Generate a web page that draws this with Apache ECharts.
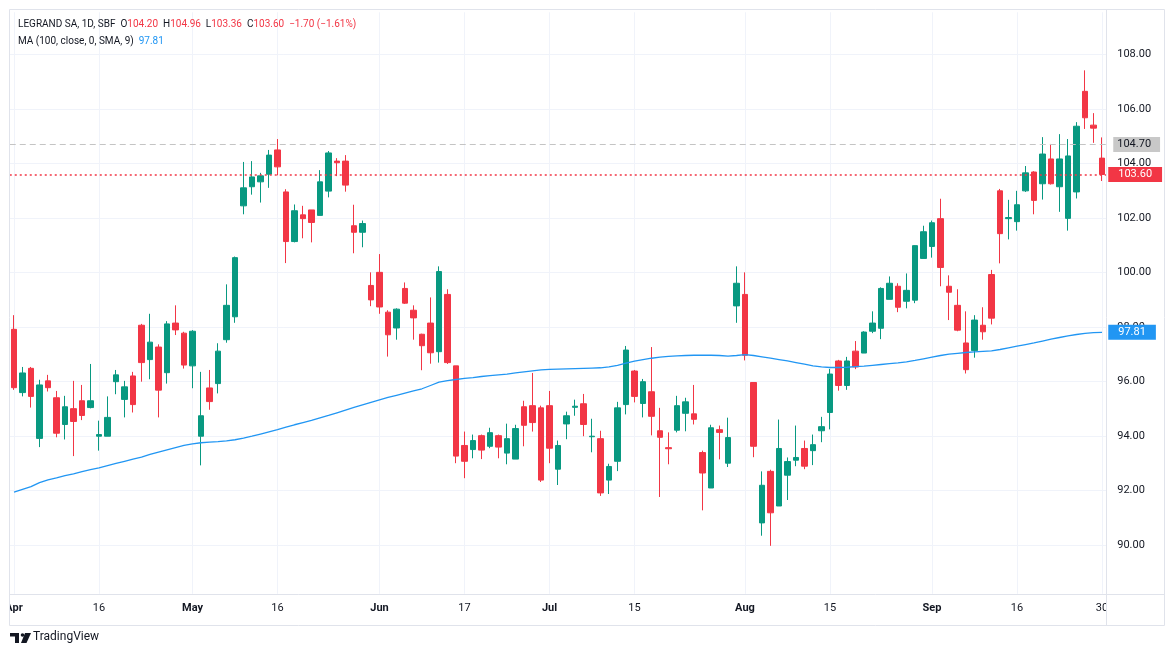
<!DOCTYPE html>
<html>
<head>
<meta charset="utf-8">
<title>LEGRAND SA, 1D, SBF</title>
<script src="https://cdn.jsdelivr.net/npm/echarts@6/dist/echarts.min.js"></script>
<style>
  html, body { margin: 0; padding: 0; background: #fff; }
  #chart { width: 1171px; height: 657px; }
</style>
</head>
<body>
<div id="chart"></div>
<script>
// trading days, Euronext Paris 2024
const aprDays = [2, 3, 4, 5, 8, 9, 10, 11, 12, 15, 16, 17, 18, 19, 22, 23, 24, 25, 26, 29, 30]
const mayDays = [2, 3, 6, 7, 8, 9, 10, 13, 14, 15, 16, 17, 20, 21, 22, 23, 24, 27, 28, 29, 30, 31]
const junDays = [3, 4, 5, 6, 7, 10, 11, 12, 13, 14, 17, 18, 19, 20, 21, 24, 25, 26, 27, 28]
const julDays = [1, 2, 3, 4, 5, 8, 9, 10, 11, 12, 15, 16, 17, 18, 19, 22, 23, 24, 25, 26, 29, 30, 31]
const augDays = [1, 2, 5, 6, 7, 8, 9, 12, 13, 14, 15, 16, 19, 20, 21, 22, 23, 26, 27, 28, 29, 30]
const sepDays = [2, 3, 4, 5, 6, 9, 10, 11, 12, 13, 16, 17, 18, 19, 20, 23, 24, 25, 26, 27, 30]

const opens = [
  97.92, 95.60, 96.49, 93.92, 96.03, 95.41, 94.43, 95.01, 95.30, 95.05,
  94.00, 94.00, 96.00, 95.35, 96.21, 98.07, 96.81, 97.27, 96.33, 98.15,
  97.78, 96.58, 94.00, 95.77, 95.93, 97.54, 98.38, 102.45, 103.15, 103.33,
  103.61, 104.50, 102.96, 101.14, 102.12, 102.30, 102.10, 102.99, 104.09, 104.09,
  101.72, 101.48, 99.53, 100.01, 98.55, 97.97, 99.42, 98.62, 97.74, 98.15,
  97.10, 99.20, 96.58, 93.66, 93.51, 94.02, 93.63, 94.02, 93.38, 93.16,
  95.08, 95.12, 95.04, 95.12, 92.79, 94.45, 95.06, 95.19, 93.98, 93.91,
  92.39, 93.08, 95.16, 96.39, 95.20, 95.63, 94.20, 93.58, 94.22, 94.84,
  94.82, 93.40, 92.10, 94.24, 93.01, 98.78, 99.20, 95.97, 90.82, 92.71,
  91.44, 92.57, 93.12, 93.55, 93.47, 94.20, 94.87, 96.76, 95.86, 97.12,
  97.05, 97.85, 97.96, 99.02, 99.50, 98.95, 98.99, 100.52, 100.96, 101.98,
  99.50, 98.80, 97.42, 97.14, 98.07, 99.93, 103.00, 101.98, 101.87, 103.00,
  103.69, 103.26, 104.17, 103.15, 101.99, 102.96, 106.65, 105.41, 104.20
]
const closes = [
  95.78, 96.32, 95.46, 95.88, 95.78, 94.11, 95.08, 94.54, 94.76, 95.30,
  94.06, 94.69, 96.25, 95.81, 95.16, 96.70, 97.45, 95.69, 98.12, 97.90,
  96.61, 97.85, 94.75, 95.27, 97.12, 98.80, 100.55, 103.11, 103.51, 103.55,
  104.31, 103.88, 101.14, 102.27, 101.98, 101.84, 103.33, 104.39, 104.03, 103.21,
  101.48, 101.80, 99.00, 98.74, 97.72, 98.66, 98.88, 98.34, 97.32, 97.06,
  100.04, 96.70, 93.27, 93.08, 93.84, 93.49, 94.13, 93.60, 93.91, 94.28,
  94.40, 94.50, 92.39, 93.56, 93.66, 94.75, 95.10, 94.43, 94.00, 91.92,
  92.89, 95.04, 97.16, 95.46, 96.00, 94.73, 93.96, 93.54, 95.12, 95.26,
  94.62, 92.65, 94.31, 94.14, 93.95, 99.61, 96.97, 93.63, 92.20, 91.19,
  93.55, 93.07, 93.22, 92.90, 93.69, 94.35, 96.28, 95.86, 96.76, 96.54,
  97.82, 98.15, 99.42, 99.61, 98.73, 99.35, 100.99, 101.50, 101.83, 100.19,
  99.28, 97.89, 96.44, 98.26, 97.83, 98.33, 101.43, 102.02, 102.49, 103.66,
  102.65, 104.35, 103.26, 104.17, 104.28, 105.37, 105.68, 105.30, 103.60
]
const lows = [
  95.70, 95.46, 95.05, 93.60, 95.64, 93.96, 93.88, 93.27, 94.59, 95.02,
  93.47, 94.00, 95.54, 94.69, 94.87, 96.00, 96.09, 94.69, 95.93, 97.71,
  96.48, 95.76, 92.93, 94.97, 95.57, 97.43, 98.16, 102.14, 102.86, 102.57,
  103.11, 103.57, 100.35, 101.11, 101.26, 101.11, 102.10, 102.76, 103.54, 102.97,
  100.71, 100.93, 98.77, 98.49, 96.92, 97.54, 98.85, 97.54, 96.42, 96.66,
  96.70, 96.65, 93.01, 92.46, 93.19, 93.16, 93.56, 93.19, 92.97, 93.16,
  93.63, 94.17, 92.32, 93.01, 92.21, 93.89, 94.75, 94.00, 93.41, 91.81,
  91.88, 92.72, 94.80, 95.24, 94.69, 94.03, 91.77, 92.97, 94.14, 94.18,
  94.43, 91.28, 92.10, 93.15, 92.87, 98.16, 96.78, 93.23, 90.35, 89.98,
  91.44, 91.66, 92.90, 92.79, 92.94, 93.78, 94.25, 95.67, 95.70, 96.46,
  97.05, 97.78, 97.56, 99.02, 98.55, 98.69, 98.88, 100.52, 100.55, 99.50,
  98.26, 97.85, 96.30, 96.88, 97.54, 98.10, 100.34, 101.22, 101.54, 102.96,
  102.14, 102.68, 103.23, 102.23, 101.54, 102.72, 105.27, 104.76, 103.36
]
const highs = [
  98.44, 96.54, 96.54, 96.07, 96.25, 95.66, 95.48, 96.03, 95.88, 96.65,
  94.57, 95.46, 96.43, 96.03, 96.36, 98.12, 98.49, 97.37, 98.22, 98.80,
  97.83, 97.89, 96.36, 96.43, 97.41, 99.57, 100.59, 104.06, 104.09, 103.66,
  104.50, 104.90, 103.06, 102.50, 102.45, 102.30, 103.76, 104.46, 104.20, 104.31,
  102.49, 101.91, 100.01, 100.68, 98.62, 98.69, 99.64, 98.80, 97.76, 99.09,
  100.23, 99.39, 96.58, 94.17, 94.06, 94.06, 94.31, 94.06, 94.46, 94.42,
  95.30, 96.32, 95.12, 95.66, 93.84, 94.90, 95.34, 95.55, 94.64, 94.20,
  92.99, 95.26, 97.31, 96.43, 96.10, 97.27, 95.04, 94.14, 95.48, 95.41,
  95.88, 93.47, 94.42, 94.39, 94.68, 100.23, 100.01, 95.97, 92.71, 92.77,
  94.61, 93.22, 94.39, 93.84, 94.06, 94.71, 96.47, 96.80, 96.91, 97.49,
  97.85, 98.58, 99.46, 99.86, 99.61, 99.97, 101.00, 101.72, 101.91, 102.71,
  99.90, 99.39, 98.58, 98.44, 98.73, 100.10, 103.07, 102.67, 103.00, 103.91,
  103.72, 104.97, 104.72, 105.08, 104.90, 105.52, 107.42, 105.85, 104.96
]
// MA (100, close, 0, SMA, 9)
const ma100 = [
  91.95, 92.05, 92.15, 92.30, 92.40, 92.47, 92.55, 92.62, 92.70, 92.77,
  92.84, 92.92, 93.00, 93.08, 93.16, 93.23, 93.33, 93.42, 93.50, 93.58,
  93.66, 93.72, 93.76, 93.78, 93.80, 93.83, 93.87, 93.93, 94.00, 94.08,
  94.16, 94.24, 94.33, 94.42, 94.50, 94.58, 94.67, 94.76, 94.86, 94.96,
  95.06, 95.15, 95.24, 95.33, 95.42, 95.50, 95.58, 95.66, 95.74, 95.86,
  95.98, 96.04, 96.08, 96.12, 96.15, 96.19, 96.22, 96.25, 96.28, 96.32,
  96.36, 96.40, 96.43, 96.45, 96.46, 96.47, 96.48, 96.49, 96.50, 96.51,
  96.54, 96.60, 96.68, 96.75, 96.81, 96.86, 96.90, 96.93, 96.95, 96.96,
  96.97, 96.97, 96.97, 96.96, 96.94, 96.96, 96.99, 96.96, 96.91, 96.86,
  96.81, 96.76, 96.70, 96.64, 96.58, 96.54, 96.52, 96.52, 96.53, 96.55,
  96.57, 96.60, 96.63, 96.66, 96.69, 96.73, 96.78, 96.84, 96.90, 96.96,
  97.01, 97.04, 97.07, 97.09, 97.11, 97.13, 97.18, 97.24, 97.30, 97.36,
  97.42, 97.49, 97.56, 97.62, 97.68, 97.73, 97.77, 97.80, 97.81
]

const tickDates = ['2024-04-02', '2024-04-16', '2024-05-02', '2024-05-16', '2024-06-03', '2024-06-17',
  '2024-07-01', '2024-07-15', '2024-08-01', '2024-08-15', '2024-09-02', '2024-09-16', '2024-09-30']
const tickLabels = ['Apr', '16', 'May', '16', 'Jun', '17', 'Jul', '15', 'Aug', '15', 'Sep', '16', '30']

const lastClose = 103.60
const refLine = 104.70
const maLast = 97.81

const GREEN = '#089981'
const RED = '#F23645'
const BLUE = '#2196F3'
const TEXT = '#131722'
const FONT = 'Roboto'

const pad = n => (n < 10 ? '0' + n : '' + n)
const dates = []
;[[4, aprDays], [5, mayDays], [6, junDays], [7, julDays], [8, augDays], [9, sepDays]].forEach(([m, days]) => {
  days.forEach(d => dates.push('2024-' + pad(m) + '-' + pad(d)))
})
const candles = dates.map((d, i) => [opens[i], closes[i], lows[i], highs[i]])

const chart = echarts.init(document.getElementById('chart'))

chart.setOption({
  animation: false,
  backgroundColor: '#fff',
  grid: { left: 9.75, top: -2.78, width: 1096.5, height: 602.56 },
  xAxis: {
    type: 'category',
    data: dates,
    boundaryGap: true,
    axisLine: { show: false },
    axisTick: { show: false },
    splitLine: { show: false },
    axisLabel: {
      interval: (i, v) => tickDates.indexOf(v) >= 0,
      margin: 3,
      color: TEXT,
      fontSize: 11,
      fontFamily: FONT,
      formatter: v => {
        const t = tickLabels[tickDates.indexOf(v)]
        return isNaN(+t) ? '{m|' + t + '}' : t
      },
      rich: { m: { fontWeight: 'bold', fontSize: 11, fontFamily: FONT, color: TEXT } }
    }
  },
  yAxis: {
    type: 'value',
    position: 'right',
    min: 88,
    max: 110,
    interval: 2,
    axisLine: { show: false },
    axisTick: { show: false },
    axisLabel: {
      margin: 11,
      color: TEXT,
      fontSize: 11,
      fontFamily: FONT,
      showMinLabel: false,
      showMaxLabel: false,
      formatter: v => v.toFixed(2)
    },
    splitLine: { showMinLine: false, showMaxLine: false, lineStyle: { color: '#f0f3fa' } }
  },
  series: [
    {
      // vertical grid lines at the labelled dates
      type: 'line',
      data: [],
      silent: true,
      markLine: {
        z: 1,
        silent: true,
        symbol: 'none',
        label: { show: false },
        lineStyle: { color: '#f0f3fa', type: 'solid', width: 1 },
        data: tickDates.map(d => [{ xAxis: d, yAxis: 88.22 }, { xAxis: d, yAxis: 109.55 }])
      }
    },
    {
      name: 'LEGRAND SA',
      type: 'candlestick',
      data: candles,
      barWidth: 6,
      itemStyle: {
        color: GREEN,
        color0: RED,
        borderColor: GREEN,
        borderColor0: RED,
        borderWidth: 1
      },
      markLine: {
        silent: true,
        symbol: 'none',
        data: [
          {
            yAxis: refLine,
            lineStyle: { color: '#c4c4c4', type: [6, 4], width: 1 },
            label: {
              position: 'end', distance: 7, formatter: refLine.toFixed(2),
              color: TEXT, backgroundColor: '#c8c8c8', padding: [2, 9, 2, 4],
              fontSize: 11, fontFamily: FONT
            }
          },
          {
            yAxis: lastClose,
            lineStyle: { color: RED, type: [2, 3], width: 1.5 },
            label: {
              position: 'end', distance: 2, formatter: lastClose.toFixed(2),
              color: '#fff', backgroundColor: RED, padding: [2, 10, 2, 10],
              fontSize: 11, fontFamily: FONT
            }
          }
        ]
      }
    },
    {
      name: 'MA 100',
      type: 'line',
      data: ma100,
      showSymbol: false,
      smooth: false,
      lineStyle: { color: BLUE, width: 1.3 },
      markLine: {
        silent: true,
        symbol: 'none',
        data: [{
          yAxis: maLast,
          lineStyle: { color: 'rgba(0,0,0,0)', width: 0 },
          label: {
            show: true,
            position: 'end', distance: 2, formatter: maLast.toFixed(2),
            color: '#fff', backgroundColor: BLUE, padding: [2, 10, 2, 10],
            fontSize: 11, fontFamily: FONT
          }
        }]
      }
    }
  ],
  graphic: [
    // clip the axis row at both ends
    { type: 'rect', z: 90, shape: { x: 1107, y: 596, width: 57, height: 29 }, style: { fill: '#fff' } },
    { type: 'rect', z: 90, shape: { x: 0, y: 596, width: 9.5, height: 29 }, style: { fill: '#fff' } },
    // chart frame
    { type: 'rect', z: 100, shape: { x: 9.5, y: 9.5, width: 1155, height: 616 }, style: { fill: 'none', stroke: '#e0e3eb', lineWidth: 1 } },
    { type: 'line', z: 100, shape: { x1: 9.5, y1: 594.5, x2: 1164.5, y2: 594.5 }, style: { stroke: '#e0e3eb', lineWidth: 1 } },
    { type: 'line', z: 100, shape: { x1: 1106.5, y1: 9.5, x2: 1106.5, y2: 625.5 }, style: { stroke: '#e0e3eb', lineWidth: 1 } },
    // legend
    {
      type: 'text', z: 100, left: 18, top: 19,
      style: {
        text: '{k|LEGRAND SA, 1D, SBF}  {k|O}{r|104.20}  {k|H}{r|104.96}  {k|L}{r|103.36}  {k|C}{r|103.60}  {r|\u22121.70 (\u22121.61%)}',
        font: '10px Roboto',
        fill: TEXT,
        rich: {
          k: { fill: TEXT, fontSize: 10, fontFamily: FONT },
          r: { fill: RED, fontSize: 10, fontFamily: FONT }
        }
      }
    },
    {
      type: 'text', z: 100, left: 18, top: 36,
      style: {
        text: '{k|MA (100, close, 0, SMA, 9)}  {b|97.81}',
        font: '10px Roboto',
        fill: TEXT,
        rich: {
          k: { fill: TEXT, fontSize: 10, fontFamily: FONT },
          b: { fill: BLUE, fontSize: 10, fontFamily: FONT }
        }
      }
    },
    // TradingView logo
    { type: 'rect', z: 100, shape: { x: 10, y: 633, width: 9, height: 3.5 }, style: { fill: TEXT } },
    { type: 'rect', z: 100, shape: { x: 15, y: 633, width: 4, height: 10 }, style: { fill: TEXT } },
    { type: 'circle', z: 100, shape: { cx: 22.5, cy: 635, r: 1.8 }, style: { fill: TEXT } },
    { type: 'polygon', z: 100, shape: { points: [[25, 633], [31, 633], [26.5, 643], [21, 643]] }, style: { fill: TEXT } },
    { type: 'text', z: 100, left: 33, top: 631, style: { text: 'TradingView', font: '12px Roboto', fill: TEXT } }
  ]
})
</script>
</body>
</html>
